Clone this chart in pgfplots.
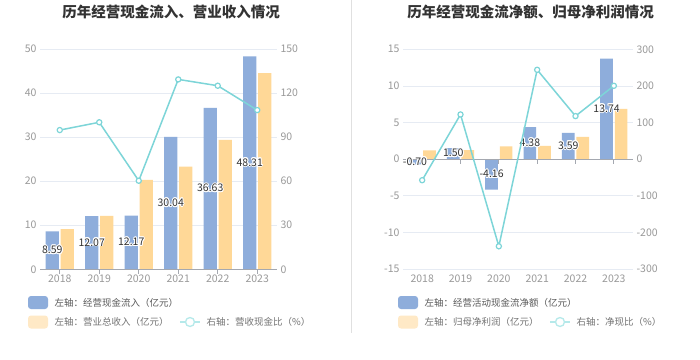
\documentclass[border=0pt]{standalone}
\usepackage{fontspec}
\setmainfont{Noto Sans CJK SC}
\usepackage{pgfplots}
\usepackage{contour}
\contourlength{0.9pt}
\contournumber{16}
\pgfplotsset{compat=1.18}
\definecolor{cblue}{HTML}{8EADDB}
\definecolor{corange}{HTML}{FFD897}
\definecolor{corangel}{HTML}{FFE9C6}
\definecolor{cline}{HTML}{7DD5D8}
\definecolor{clinel}{HTML}{B5E9EA}
\definecolor{cgrid}{HTML}{E6EBF3}
\definecolor{ctick}{HTML}{999999}
\definecolor{caxis}{HTML}{A4A8B0}
\definecolor{ctitle}{HTML}{333333}
\definecolor{clab}{HTML}{333333}
\pgfplotsset{
  base/.style={
    scale only axis, anchor=south west,
    xmin=-0.5, xmax=5.5,
    axis line style={draw=none}, tick style={draw=none},
    ticklabel style={font=\fontsize{10.5}{12}\selectfont, text=ctick},
    /pgf/number format/assume math mode=true,
    clip=false,
  },
  lab/.style={draw=none, nodes near coords, point meta=rawy,
    y filter/.expression={y/2},
    nodes near coords={\contour{white}{\pgfmathprintnumber[fixed, fixed zerofill, precision=2, assume math mode=true]{\pgfplotspointmeta}}},
    every node near coord/.style={anchor=center, font=\fontsize{10.5}{12}\selectfont, text=clab}},
}
\begin{document}
\begin{tikzpicture}
\useasboundingbox (0pt,0pt) rectangle (700pt,359pt);
\fill[white] (0pt,0pt) rectangle (700pt,359pt);
\draw[black!12, line width=0.6pt] (351pt,359pt) -- (351pt,26pt);
% titles
\node[font=\fontsize{14.5}{16}\selectfont\bfseries, text=ctitle] at (171pt,347pt) {历年经营现金流入、营业收入情况};
\node[font=\fontsize{14.5}{16}\selectfont\bfseries, text=ctitle] at (530.5pt,347pt) {历年经营现金流净额、归母净利润情况};

% ---------------- left chart
\begin{axis}[base, at={(40pt,89.7pt)}, width=237pt, height=220.3pt,
  ymin=0, ymax=50, ytick={0,10,...,50},
  xtick={0,...,5}, xticklabels={2018,2019,2020,2021,2022,2023},
  xticklabel style={yshift=-2pt},
  ymajorgrids, grid style={cgrid, line width=0.8pt}]
\addplot[ybar, bar width=0.33, bar shift=-0.19, fill=cblue, draw=none]
  coordinates {(0,8.59) (1,12.07) (2,12.17) (3,30.04) (4,36.63) (5,48.31)};
\addplot[ybar, bar width=0.33, bar shift=0.19, fill=corange, draw=none]
  coordinates {(0,9.1) (1,12.1) (2,20.3) (3,23.3) (4,29.4) (5,44.5)};
\draw[caxis, line width=0.8pt] (axis cs:-0.5,0) -- (axis cs:5.5,0);
\pgfplotsinvokeforeach{0,...,5}{\draw[caxis, line width=0.8pt] (axis cs:#1,0) -- ++(0pt,-5pt);}
\addplot[lab] coordinates {(-0.19,8.59) (0.81,12.07) (1.81,12.17) (2.81,30.04) (3.81,36.63) (4.81,48.31)};
\end{axis}
\begin{axis}[base, at={(40pt,89.7pt)}, width=237pt, height=220.3pt,
  ymin=0, ymax=150, ytick={0,30,...,150},
  axis y line*=right, axis x line=none]
\addplot[cline, line width=1.5pt, mark=*, mark size=2.6pt, mark options={fill=white, draw=cline, line width=1.2pt}]
  coordinates {(0,94.8) (1,100.1) (2,60.3) (3,129.3) (4,125.0) (5,108.4)};
\end{axis}

% ---------------- right chart
\begin{axis}[base, at={(403pt,90pt)}, width=230pt, height=219.7pt,
  ymin=-15, ymax=15, ytick={-15,-10,...,15},
  xtick={0,...,5}, xticklabels={2018,2019,2020,2021,2022,2023},
  xticklabel style={yshift=-2pt},
  ymajorgrids, grid style={cgrid, line width=0.8pt}]
\addplot[ybar, bar width=0.33, bar shift=-0.19, fill=cblue, draw=none]
  coordinates {(0,-0.70) (1,1.50) (2,-4.16) (3,4.38) (4,3.59) (5,13.74)};
\addplot[ybar, bar width=0.33, bar shift=0.19, fill=corange, draw=none]
  coordinates {(0,1.2) (1,1.23) (2,1.76) (3,1.8) (4,3.05) (5,6.87)};
\draw[caxis, line width=0.8pt] (axis cs:-0.5,0) -- (axis cs:5.5,0);
\pgfplotsinvokeforeach{0,...,5}{\draw[caxis, line width=0.8pt] (axis cs:#1,0) -- ++(0pt,-5pt);}
\addplot[lab] coordinates {(-0.19,-0.70) (0.81,1.50) (1.81,-4.16) (2.81,4.38) (3.81,3.59) (4.81,13.74)};
\end{axis}
\begin{axis}[base, at={(403pt,90pt)}, width=230pt, height=219.7pt,
  ymin=-300, ymax=300, ytick={-300,-200,...,300},
  axis y line*=right, axis x line=none]
\addplot[cline, line width=1.5pt, mark=*, mark size=2.6pt, mark options={fill=white, draw=cline, line width=1.2pt}]
  coordinates {(0,-57.5) (1,122) (2,-238) (3,244) (4,117.6) (5,200.3)};
\end{axis}

% ---------------- legends
\begin{scope}[font=\fontsize{9.5}{11}\selectfont]
\fill[cblue, rounded corners=3pt] (28pt,50pt) rectangle (48pt,63pt);
\node[anchor=west, text=black!65] at (51pt,56.3pt) {左轴：经营现金流入（亿元）};
\fill[corangel, rounded corners=3pt] (28pt,30.5pt) rectangle (48pt,43.5pt);
\node[anchor=west, text=black!55] at (51pt,37pt) {左轴：营业总收入（亿元）};
\draw[clinel, line width=1.3pt] (180pt,37pt) -- (200pt,37pt);
\draw[clinel, fill=white, line width=1.3pt] (190pt,37pt) circle (4.5pt);
\node[anchor=west, text=black!55] at (203pt,37pt) {右轴：营收现金比（\%）};

\fill[cblue, rounded corners=3pt] (398pt,50pt) rectangle (418pt,63pt);
\node[anchor=west, text=black!65] at (421pt,56.3pt) {左轴：经营活动现金流净额（亿元）};
\fill[corangel, rounded corners=3pt] (398pt,30.5pt) rectangle (418pt,43.5pt);
\node[anchor=west, text=black!55] at (421pt,37pt) {左轴：归母净利润（亿元）};
\draw[clinel, line width=1.3pt] (550pt,37pt) -- (570pt,37pt);
\draw[clinel, fill=white, line width=1.3pt] (560pt,37pt) circle (4.5pt);
\node[anchor=west, text=black!55] at (573pt,37pt) {右轴：净现比（\%）};
\end{scope}
\end{tikzpicture}
\end{document}
